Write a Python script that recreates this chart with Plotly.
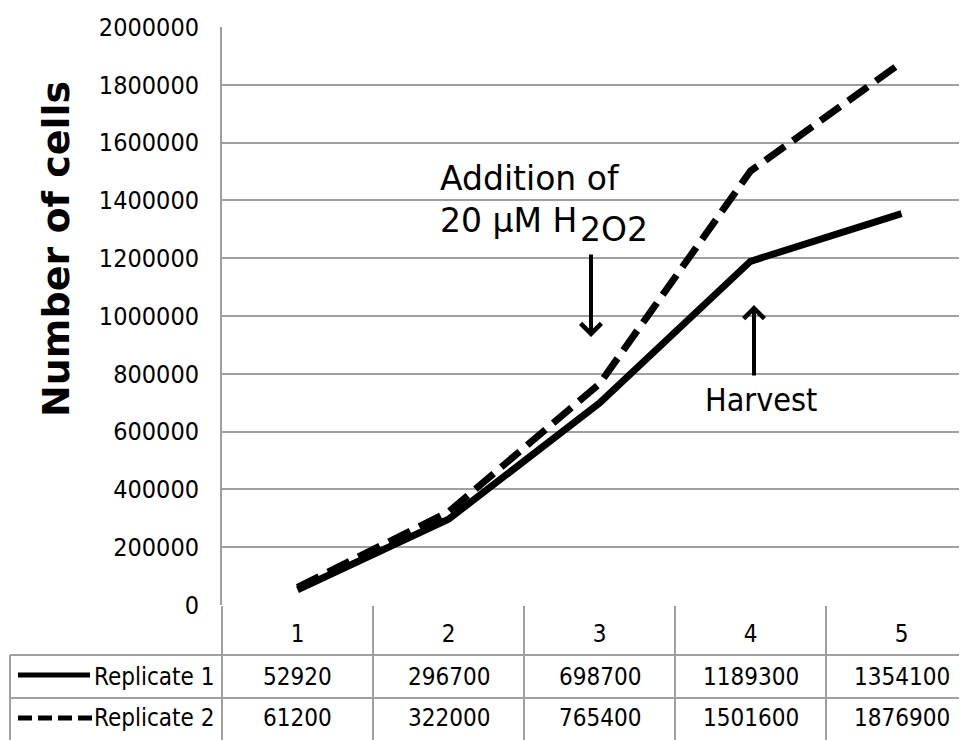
import plotly.graph_objects as go

days = [1, 2, 3, 4, 5]
day_labels = ["1", "2", "3", "4", "5"]
replicate1 = [52920, 296700, 698700, 1189300, 1354100]
replicate2 = [61200, 322000, 765400, 1501600, 1876900]
series_names = ["Replicate 1", "Replicate 2"]
y_ticks = [0, 200000, 400000, 600000, 800000, 1000000, 1200000, 1400000, 1600000, 1800000, 2000000]

OFF = 8  # page body margin
W, H = 967 - OFF, 740 - OFF
L, R, T, B = 222 - OFF, 0, 27 - OFF, 135
PW, PH = W - L - R, H - T - B
GRID = "#a0a0a0"
COND = "DejaVu Sans Condensed, DejaVu Sans, sans-serif"
SANS = "DejaVu Sans, sans-serif"


def py_(py):
    """page pixel y -> paper y"""
    return (H - B - (py - OFF)) / PH


def px_(px):
    """page pixel x -> paper x"""
    return (px - OFF - L) / PW


def xd(px):
    """page pixel x -> category axis value"""
    return 0.5 + (px - 222) / 151.0


fig = go.Figure()
fig.add_trace(go.Scatter(x=days, y=replicate1, mode="lines", name=series_names[0],
                         line=dict(color="black", width=7)))
fig.add_trace(go.Scatter(x=days, y=replicate2, mode="lines", name=series_names[1],
                         line=dict(color="black", width=7, dash="24px,10px")))

x_left = 0.5
x_right = 0.5 + PW / 151.0

fig.update_layout(
    width=W, height=H,
    margin=dict(l=L, r=R, t=T, b=B, pad=0),
    paper_bgcolor="white", plot_bgcolor="white",
    showlegend=False,
    xaxis=dict(range=[x_left, x_right], tickvals=days, ticktext=day_labels,
               ticks="", showgrid=False, zeroline=False, showline=False,
               tickfont=dict(family=COND, size=24, color="black"),
               ticklabelstandoff=12,
               minor=dict(tickvals=[0.5, 1.5, 2.5, 3.5, 4.5], ticks="outside",
                          ticklen=B, tickwidth=2, tickcolor=GRID, showgrid=False)),
    yaxis=dict(range=[0, 2000000], tickvals=y_ticks, tickformat="d",
               ticks="", showgrid=True, gridcolor=GRID, gridwidth=2,
               zeroline=False, showline=True, linecolor=GRID, linewidth=2,
               tickfont=dict(family=COND, size=25, color="black"),
               ticklabelstandoff=16),
)

shapes = []
for py in [655, 698]:
    shapes.append(dict(type="line", xref="paper", yref="paper",
                       x0=px_(10), x1=1.0, y0=py_(py), y1=py_(py),
                       line=dict(color=GRID, width=2)))
shapes.append(dict(type="line", xref="paper", yref="paper",
                   x0=px_(10), x1=px_(10), y0=py_(655), y1=py_(750),
                   line=dict(color=GRID, width=2)))
shapes.append(dict(type="line", xref="paper", yref="paper",
                   x0=px_(18), x1=px_(90), y0=py_(675), y1=py_(675),
                   line=dict(color="black", width=5)))
shapes.append(dict(type="line", xref="paper", yref="paper",
                   x0=px_(18), x1=px_(92), y0=py_(718), y1=py_(718),
                   line=dict(color="black", width=5, dash="14px,6px")))
fig.update_layout(shapes=shapes)

ann = []
for name, py in zip(series_names, [677, 718]):
    ann.append(dict(text=name, xref="paper", yref="paper", x=px_(216), y=py_(py),
                    xanchor="right", yanchor="middle", showarrow=False,
                    font=dict(family=COND, size=24, color="black")))
for vals, py in zip([replicate1, replicate2], [677, 718]):
    for d, v in zip(days, vals):
        ann.append(dict(text=str(v), xref="x", yref="paper", x=d, y=py_(py),
                        xanchor="center", yanchor="middle", showarrow=False,
                        font=dict(family=COND, size=24, color="black")))
ann.append(dict(text="<b>Number of cells</b>", xref="paper", yref="paper",
                x=px_(56), y=py_(249), textangle=-90,
                xanchor="center", yanchor="middle", showarrow=False,
                font=dict(family=SANS, size=38, color="black")))
ann.append(dict(text="Addition of", xref="x", yref="paper",
                x=xd(438), y=py_(178),
                xanchor="left", yanchor="middle", showarrow=False,
                font=dict(family=SANS, size=33, color="black")))
ann.append(dict(text="20 μM H", xref="x", yref="paper",
                x=xd(438), y=py_(220),
                xanchor="left", yanchor="middle", showarrow=False,
                font=dict(family=SANS, size=33, color="black")))
ann.append(dict(text="2O2", xref="x", yref="paper",
                x=xd(578), y=py_(229),
                xanchor="left", yanchor="middle", showarrow=False,
                font=dict(family=SANS, size=33, color="black")))
ann.append(dict(text="Harvest", xref="x", yref="paper",
                x=xd(761), y=py_(400),
                xanchor="center", yanchor="middle", showarrow=False,
                font=dict(family=COND, size=32, color="black")))
ann.append(dict(text="", xref="x", yref="y", x=xd(591),
                y=(605 - 337) / 578 * 2000000, ax=0, ay=-84,
                showarrow=True, arrowhead=4, arrowsize=1, arrowwidth=4, arrowcolor="black"))
ann.append(dict(text="", xref="x", yref="y", x=xd(754),
                y=(605 - 305) / 578 * 2000000, ax=0, ay=72,
                showarrow=True, arrowhead=4, arrowsize=1, arrowwidth=4, arrowcolor="black"))
fig.update_layout(annotations=ann)

fig.write_html("out.html")
